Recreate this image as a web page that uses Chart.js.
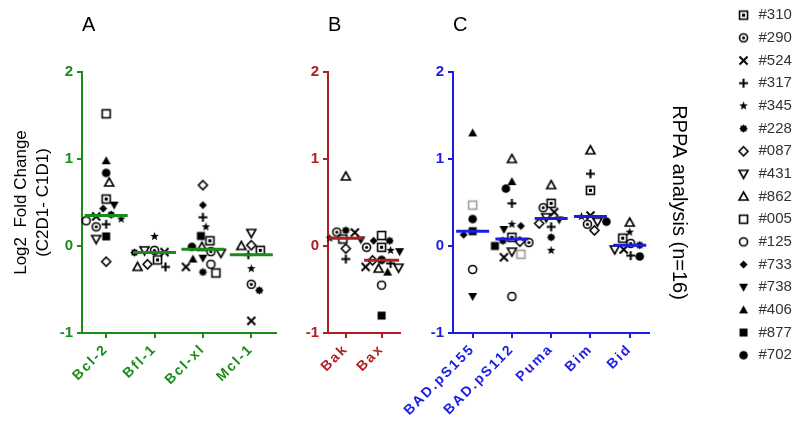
<!DOCTYPE html>
<html><head><meta charset="utf-8">
<script src="https://cdn.jsdelivr.net/npm/chart.js@4.4.1/dist/chart.umd.min.js"></script>
<style>
html,body{margin:0;padding:0;background:#fff;width:800px;height:444px;overflow:hidden;position:relative}
canvas{position:absolute;top:0}
</style></head><body>
<canvas id="cA" width="300" height="444" style="left:0px"></canvas>
<canvas id="cB" width="140" height="444" style="left:280px"></canvas>
<canvas id="cC" width="400" height="444" style="left:400px"></canvas>
<script>
// ---------- data ----------
const patients = ['#310','#290','#524','#317','#345','#228','#087','#431','#862','#005','#125','#733','#738','#406','#877','#702'];
const catA = ['Bcl-2','Bfl-1','Bcl-xl','Mcl-1'];
const catB = ['Bak','Bax'];
const catC = ['BAD.pS155','BAD.pS112','Puma','Bim','Bid'];
// values in patient order (null = not shown)
const bcl2  = [0.54, 0.22, 0.34, 0.25, 0.31, 0.36, -0.18, 0.08, 0.73, 1.52, 0.29, 0.43, 0.47, 0.98, 0.11, 0.84];
const bfl1  = [-0.16, -0.05, -0.07, -0.24, 0.11, -0.075, -0.21, -0.05, -0.24, null, null, null, null, null, null, null];
const bclxl = [0.06, -0.065, -0.24, 0.33, 0.22, -0.30, 0.70, -0.08, -0.01, -0.31, -0.21, 0.47, -0.14, -0.15, 0.115, -0.01];
const mcl1  = [-0.05, -0.44, -0.86, -0.10, -0.26, -0.51, 0.01, 0.15, 0.0, null, null, null, null, null, null, null];
const bak   = [null, 0.16, 0.155, -0.15, 0.09, 0.18, -0.03, null, 0.80, 0.08, null, null, 0.07, null, null, null];
const bax   = [-0.015, -0.015, -0.24, -0.20, -0.05, 0.06, -0.165, -0.25, -0.26, 0.12, -0.45, 0.06, -0.065, -0.30, -0.80, -0.16];
const badS155 = [null, null, null, null, null, null, null, null, null, 0.47, -0.27, 0.13, -0.58, 1.30, 0.17, 0.31];
const badS112 = [0.10, 0.04, -0.13, 0.49, 0.25, 0.06, 0.05, -0.065, 1.0, -0.095, -0.58, 0.23, 0.19, 0.74, 0.0, 0.66];
const puma  = [0.49, 0.44, 0.39, 0.22, -0.05, 0.10, 0.26, 0.33, 0.70, null, null, null, 0.30, null, null, null];
const bim   = [0.64, 0.25, 0.35, 0.83, 0.34, null, 0.18, 0.28, 1.10, null, null, null, null, null, null, 0.28];
const bid   = [0.09, 0.03, -0.04, -0.11, 0.16, 0.01, null, -0.04, 0.27, null, null, null, null, null, null, -0.12];
const yTicks = [-1, 0, 1, 2];

// ---------- styles ----------
const GREEN = '#1a8c1a', RED = '#b01e23', BLUE = '#1c1ce6';
const markerKinds = ['sqDot','cirDot','x','plus','star','blob','diaOpen','triDownOpen','triUpOpen','sqOpen','cirOpen','diaFill','triDownFill','triUpFill','sqFill','cirFill'];

function marker(kind, color) {
  const c = document.createElement('canvas');
  c.width = 13; c.height = 13;
  const g = c.getContext('2d');
  g.strokeStyle = color; g.fillStyle = color; g.lineWidth = 1.6;
  const poly = (pts, fill) => { g.beginPath(); g.moveTo(pts[0][0], pts[0][1]); for (let i = 1; i < pts.length; i++) g.lineTo(pts[i][0], pts[i][1]); g.closePath(); fill ? g.fill() : g.stroke(); };
  const starPts = (n, ro, ri) => { const p = []; for (let i = 0; i < 2 * n; i++) { const a = -Math.PI / 2 + i * Math.PI / n; const r = i % 2 ? ri : ro; p.push([6.5 + r * Math.cos(a), 6.5 + r * Math.sin(a)]); } return p; };
  switch (kind) {
    case 'sqDot': g.strokeRect(2.5, 2.5, 8, 8); g.fillRect(5, 5, 3, 3); break;
    case 'cirDot': g.beginPath(); g.arc(6.5, 6.5, 4, 0, 2 * Math.PI); g.stroke(); g.beginPath(); g.arc(6.5, 6.5, 1.6, 0, 2 * Math.PI); g.fill(); break;
    case 'x': g.lineWidth = 2; g.beginPath(); g.moveTo(2.5, 2.5); g.lineTo(10.5, 10.5); g.moveTo(10.5, 2.5); g.lineTo(2.5, 10.5); g.stroke(); break;
    case 'plus': g.lineWidth = 2; g.beginPath(); g.moveTo(6.5, 2); g.lineTo(6.5, 11); g.moveTo(2, 6.5); g.lineTo(11, 6.5); g.stroke(); break;
    case 'star': poly(starPts(5, 4.6, 1.9), true); break;
    case 'blob': poly(starPts(8, 4.2, 3.1), true); break;
    case 'diaOpen': poly([[6.5, 2], [11, 6.5], [6.5, 11], [2, 6.5]], false); break;
    case 'triDownOpen': poly([[2, 3], [11, 3], [6.5, 11]], false); break;
    case 'triUpOpen': poly([[6.5, 2], [11, 10], [2, 10]], false); break;
    case 'sqOpen': g.strokeRect(2.5, 2.5, 8, 8); break;
    case 'cirOpen': g.beginPath(); g.arc(6.5, 6.5, 4, 0, 2 * Math.PI); g.stroke(); break;
    case 'diaFill': poly([[6.5, 2.5], [10.5, 6.5], [6.5, 10.5], [2.5, 6.5]], true); break;
    case 'triDownFill': poly([[2, 3], [11, 3], [6.5, 11]], true); break;
    case 'triUpFill': poly([[6.5, 2], [11, 10], [2, 10]], true); break;
    case 'sqFill': g.fillRect(2.5, 2.5, 8, 8); break;
    case 'cirFill': g.beginPath(); g.arc(6.5, 6.5, 4.3, 0, 2 * Math.PI); g.fill(); break;
  }
  return c;
}
const blackMarkers = markerKinds.map(k => marker(k, '#000'));
const grayMarkers = markerKinds.map(k => marker(k, '#9a9a9a'));

// ---------- plugins ----------
const beeswarm = {
  id: 'beeswarm',
  afterDatasetsUpdate(chart, args, opts) {
    const D = opts.minDist || 9;
    const n = chart.data.labels.length;
    for (let i = 0; i < n; i++) {
      const pts = [];
      chart.data.datasets.forEach((ds, d) => {
        if (ds.isMedian) return;
        const el = chart.getDatasetMeta(d).data[i];
        if (el && !el.skip && Number.isFinite(el.y)) pts.push(el);
      });
      pts.sort((a, b) => a.y - b.y);
      const placed = [];
      pts.forEach((el, k) => {
        const x0 = el.x;
        let best = 0;
        for (let s = 0; s < 80; s++) {
          const cands = s === 0 ? [0] : (k % 2 ? [s, -s] : [-s, s]);
          let found = null;
          for (const off of cands) {
            if (placed.every(p => (p.x - (x0 + off)) ** 2 + (p.y - el.y) ** 2 >= D * D)) { found = off; break; }
          }
          if (found !== null) { best = found; break; }
        }
        el.x = x0 + best;
        placed.push({x: el.x, y: el.y});
      });
    }
  }
};
const spacedTicks = {
  id: 'spacedTicks',
  beforeDraw(chart) {
    const s = chart.scales.x;
    if (s && !s.__spaced) {
      const orig = s.drawLabels;
      s.drawLabels = function (area) { const c = this.ctx; c.save(); c.letterSpacing = '2px'; orig.call(this, area); c.restore(); };
      s.__spaced = true;
    }
  }
};

// ---------- helpers ----------
function median(vals) {
  const v = vals.filter(x => x !== null).sort((a, b) => a - b);
  const n = v.length;
  return n % 2 ? v[(n - 1) / 2] : (v[n / 2 - 1] + v[n / 2]) / 2;
}
function buildDatasets(columns, color, medRadius, styleFor) {
  const ds = patients.map((p, i) => ({
    label: p,
    data: columns.map(col => col[i]),
    yAxisID: 'y',
    showLine: false,
    pointStyle: styleFor(i),
    pointRadius: 5, pointHoverRadius: 5,
    order: 1
  }));
  ds.push({
    label: 'median', isMedian: true,
    data: columns.map(median), yAxisID: 'y', showLine: false,
    pointStyle: 'line', pointRadius: medRadius, pointHoverRadius: medRadius,
    pointBorderWidth: 3, pointHoverBorderWidth: 3,
    pointBorderColor: color, pointBackgroundColor: color, order: 0
  });
  return ds;
}
function xScale(color) {
  return {
    type: 'category', offset: true,
    grid: {display: true, drawOnChartArea: false, color, lineWidth: 2, tickLength: 5, offset: false},
    border: {display: true, color, width: 2},
    ticks: {color, font: {size: 14, weight: 'bold'}, minRotation: 45, maxRotation: 45, autoSkip: false, padding: 3},
    afterFit: s => { s.height = 111; }
  };
}
function yScale(color, width, title) {
  return {
    type: 'linear', position: 'left', min: yTicks[0], max: yTicks[yTicks.length - 1],
    afterBuildTicks: s => { s.ticks = yTicks.map(v => ({value: v})); },
    ticks: {color, font: {size: 15, weight: 'bold'}, padding: 4},
    grid: {drawOnChartArea: false, color, lineWidth: 2, tickLength: 5},
    border: {color, width: 2},
    title: title || {display: false},
    afterFit: s => { s.width = width; }
  };
}
function panelTitle(text) {
  return {display: true, text, align: 'start', fullSize: false, color: '#000',
          font: {size: 20, weight: 'normal'}, padding: {top: 13, bottom: 35}};
}

Chart.defaults.font.family = '"Liberation Sans", Arial, sans-serif';
Chart.defaults.animation = false;

// ---------- Panel A ----------
new Chart('cA', {
  type: 'line',
  data: {labels: catA, datasets: buildDatasets([bcl2, bfl1, bclxl, mcl1], GREEN, 21.5, i => blackMarkers[i])},
  options: {
    responsive: false, animation: false,
    layout: {padding: {top: 0, left: 0, right: 8, bottom: 0}},
    scales: {
      x: xScale(GREEN),
      y: yScale(GREEN, 82, {display: true, text: ['Log2  Fold Change', '(C2D1- C1D1)'], color: '#000',
                            font: {size: 17, weight: 'normal', lineHeight: 1.3}, padding: {top: 10, bottom: 0}})
    },
    plugins: {legend: {display: false}, tooltip: {enabled: false}, title: panelTitle('A'), beeswarm: {minDist: 10}}
  },
  plugins: [beeswarm, spacedTicks]
});

// ---------- Panel B ----------
new Chart('cB', {
  type: 'line',
  data: {labels: catB, datasets: buildDatasets([bak, bax], RED, 17.5, i => blackMarkers[i])},
  options: {
    responsive: false, animation: false,
    layout: {padding: {top: 0, left: 0, right: 5, bottom: 0}},
    scales: {x: xScale(RED), y: yScale(RED, 48)},
    plugins: {legend: {display: false}, tooltip: {enabled: false}, title: panelTitle('B'), beeswarm: {minDist: 9}}
  },
  plugins: [beeswarm, spacedTicks]
});

// ---------- Panel C ----------
new Chart('cC', {
  type: 'line',
  data: {labels: catC, datasets: buildDatasets([badS155, badS112, puma, bim, bid], BLUE, 16.5,
         i => (patients[i] === '#005' ? grayMarkers[i] : blackMarkers[i]))},
  options: {
    responsive: false, animation: false,
    layout: {padding: {top: 0, left: 0, right: 6, bottom: 0}},
    scales: {
      x: xScale(BLUE),
      y: yScale(BLUE, 53),
      yr: {type: 'linear', position: 'right', display: true,
           ticks: {display: false}, grid: {display: false}, border: {display: false},
           title: {display: true, text: 'RPPA analysis (n=16)', color: '#000', font: {size: 20, weight: 'normal'}, padding: {top: 38, bottom: 0}},
           afterFit: s => { s.width = 79; }}
    },
    plugins: {
      tooltip: {enabled: false},
      title: panelTitle('C'),
      beeswarm: {minDist: 9},
      legend: {
        display: true, position: 'right', align: 'start',
        labels: {
          usePointStyle: true, padding: 7.67, color: '#333', font: {size: 15},
          generateLabels: chart => Chart.defaults.plugins.legend.labels.generateLabels(chart)
            .filter(it => it.datasetIndex < patients.length)
            .map(it => Object.assign({}, it, {pointStyle: blackMarkers[it.datasetIndex], rotation: 0}))
        }
      }
    }
  },
  plugins: [beeswarm, spacedTicks]
});
</script></body></html>
